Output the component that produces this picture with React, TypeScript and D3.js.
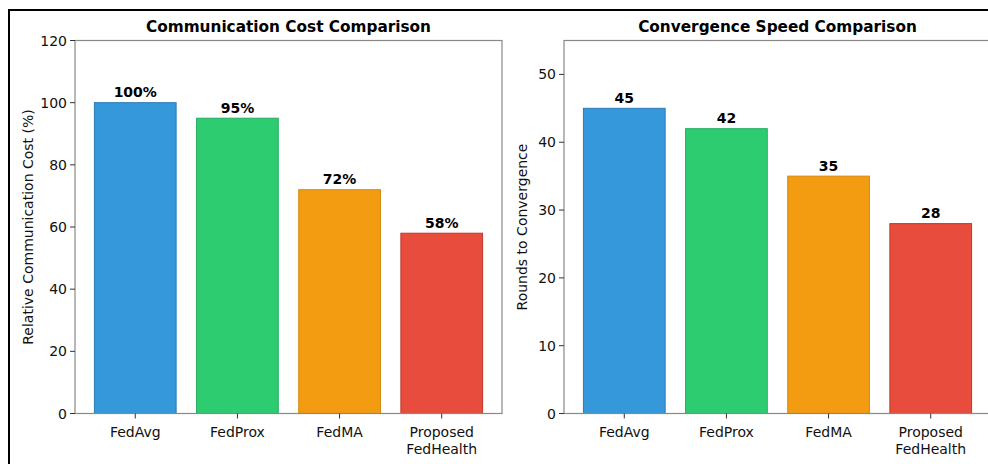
import React from "react";
import * as d3 from "d3";

const categories = ["FedAvg", "FedProx", "FedMA", "Proposed\nFedHealth"];
const commCost = [100, 95, 72, 58];
const rounds = [45, 42, 35, 28];
const commTicks = [0, 20, 40, 60, 80, 100, 120];
const roundTicks = [0, 10, 20, 30, 40, 50];
const colors = ["#3498db", "#2ecc71", "#f39c12", "#e74c3c"];
const edgeColors = ["#2a7bb5", "#27ad60", "#d68910", "#c0392b"];

const W = 988;
const H = 464;
const FONT = "DejaVu Sans, sans-serif";

type PanelProps = {
  x0: number;
  x1: number;
  values: number[];
  yMax: number;
  ticks: number[];
  title: string;
  ylabel: string;
  labelOffset: number;
  suffix: string;
};

function Panel({ x0, x1, values, yMax, ticks, title, ylabel, labelOffset, suffix }: PanelProps) {
  const top = 40.5;
  const bottom = 413.5;
  const x = d3.scaleLinear().domain([-0.59, categories.length - 1 + 0.59]).range([x0, x1]);
  const y = d3.scaleLinear().domain([0, yMax]).range([bottom, top]);
  const bw = x(0.8) - x(0);
  const spine = "#888888";
  return (
    <g>
      {values.map((v, i) => (
        <rect
          key={i}
          x={x(i) - bw / 2}
          y={y(v)}
          width={bw}
          height={y(0) - y(v)}
          fill={colors[i]}
          stroke={edgeColors[i]}
          strokeWidth={1}
        />
      ))}
      {values.map((v, i) => (
        <text
          key={"l" + i}
          x={x(i)}
          y={y(v) - 5.5}
          textAnchor="middle"
          fontFamily={FONT}
          fontWeight="bold"
          fontSize={14}
          fill="#000"
        >
          {v + suffix}
        </text>
      ))}
      <rect x={x0} y={top} width={x1 - x0} height={bottom - top} fill="none" stroke={spine} strokeWidth={1.2} />
      {ticks.map((t) => (
        <g key={"t" + t}>
          <line x1={x0 - 5} x2={x0} y1={y(t)} y2={y(t)} stroke="#333" strokeWidth={1} />
          <text x={x0 - 8} y={y(t)} dy="0.36em" textAnchor="end" fontFamily={FONT} fontSize={14} fill="#111">
            {t}
          </text>
        </g>
      ))}
      {categories.map((c, i) => (
        <g key={"c" + i}>
          <line x1={x(i)} x2={x(i)} y1={bottom} y2={bottom + 5} stroke="#333" strokeWidth={1} />
          {c.split("\n").map((ln, j) => (
            <text
              key={j}
              x={x(i)}
              y={bottom + 23.5 + j * 16.5}
              textAnchor="middle"
              fontFamily={FONT}
              fontSize={14}
              fill="#111"
            >
              {ln}
            </text>
          ))}
        </g>
      ))}
      <text
        x={(x0 + x1) / 2}
        y={top - 8.5}
        textAnchor="middle"
        fontFamily={FONT}
        fontWeight="bold"
        fontSize={15.3}
        fill="#000"
      >
        {title}
      </text>
      <text
        transform={`translate(${x0 - labelOffset},${(top + bottom) / 2}) rotate(-90)`}
        dy="0.35em"
        textAnchor="middle"
        fontFamily={FONT}
        fontSize={14}
        fill="#111"
      >
        {ylabel}
      </text>
    </g>
  );
}

export default function App() {
  return (
    <svg
      width={W}
      height={H}
      style={{ position: "absolute", left: 0, top: 0, display: "block", background: "#fff" }}
    >
      <rect x={0} y={0} width={W} height={H} fill="#fff" />
      <rect x={9} y={10} width={W + 20} height={H + 20} fill="none" stroke="#000" strokeWidth={2} />
      <Panel
        x0={75}
        x1={502}
        values={commCost}
        yMax={120}
        ticks={commTicks}
        title="Communication Cost Comparison"
        ylabel="Relative Communication Cost (%)"
        labelOffset={47}
        suffix="%"
      />
      <Panel
        x0={564}
        x1={991}
        values={rounds}
        yMax={55}
        ticks={roundTicks}
        title="Convergence Speed Comparison"
        ylabel="Rounds to Convergence"
        labelOffset={42}
        suffix=""
      />
    </svg>
  );
}
